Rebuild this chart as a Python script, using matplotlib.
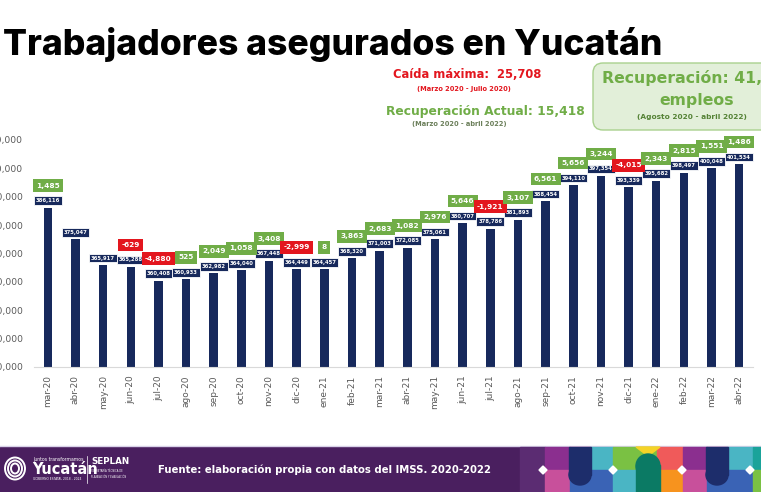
import numpy as np
import matplotlib.pyplot as plt
from matplotlib.patches import Rectangle, FancyBboxPatch, Ellipse, Polygon
from matplotlib.ticker import FuncFormatter

# ---------------------
# Datos
# ---------------------
meses = ["mar-20", "abr-20", "may-20", "jun-20", "jul-20", "ago-20", "sep-20",
         "oct-20", "nov-20", "dic-20", "ene-21", "feb-21", "mar-21", "abr-21",
         "may-21", "jun-21", "jul-21", "ago-21", "sep-21", "oct-21", "nov-21",
         "dic-21", "ene-22", "feb-22", "mar-22", "abr-22"]
asegurados = [386116, 375047, 365917, 365288, 360408, 360933, 362982,
              364040, 367448, 364449, 364457, 368320, 371003, 372085,
              375061, 380707, 378786, 381893, 388454, 394110, 397354,
              393339, 395682, 398497, 400048, 401534]
variacion = [1485, None, None, -629, -4880, 525, 2049,
             1058, 3408, -2999, 8, 3863, 2683, 1082,
             2976, 5646, -1921, 3107, 6561, 5656, 3244,
             -4015, 2343, 2815, 1551, 1486]

navy = "#17295c"
verde = "#70ad47"
rojo = "#e3161e"
morado = "#4a1f5f"

W, H = 761, 492
fig = plt.figure(figsize=(W / 100, H / 100), dpi=100)

# capa de fondo en pixeles (titulo, notas, pie)
bg = fig.add_axes([0, 0, 1, 1])
bg.set_xlim(0, W)
bg.set_ylim(H, 0)
bg.axis("off")

# ---------------------
# Grafica de barras
# ---------------------
ax = fig.add_axes([34 / W, 125 / H, 719 / W, 227 / H])
ax.set_facecolor("none")
x = np.arange(len(meses))
ax.bar(x, asegurados, width=0.31, color=navy, zorder=2)
ax.set_xlim(-0.5, len(meses) - 0.5)
ax.set_ylim(330000, 410000)
ax.set_yticks(np.arange(330000, 410001, 10000))
ax.yaxis.set_major_formatter(FuncFormatter(lambda v, p: f"{v:,.0f}"))
ax.tick_params(axis="y", length=0, pad=8, labelsize=6.6, labelcolor="#595959")
ax.set_xticks(x, meses, rotation=90)
ax.tick_params(axis="x", length=0, pad=6, labelsize=6.5, labelcolor="#595959")
for s in ["top", "right", "left"]:
    ax.spines[s].set_visible(False)
ax.spines["bottom"].set_color("#d9d9d9")

for i, (v, c) in enumerate(zip(asegurados, variacion)):
    ax.annotate(f"{v:,}", (i, v), xytext=(0, 7), textcoords="offset pixels",
                ha="center", va="center", fontsize=3.8, color="white", fontweight="bold",
                bbox=dict(boxstyle="square,pad=0.35", fc=navy, ec="white", lw=0.6),
                zorder=4, annotation_clip=False)
    if c is not None:
        ax.annotate(f"{c:,}", (i, v), xytext=(0, 22), textcoords="offset pixels",
                    ha="center", va="center", fontsize=5.3, color="white", fontweight="bold",
                    bbox=dict(boxstyle="square,pad=0.45", fc=verde if c > 0 else rojo, ec="none"),
                    zorder=5, annotation_clip=False)

# ---------------------
# Titulo y notas
# ---------------------
bg.text(3, 44, "Trabajadores asegurados en Yucatán", fontsize=25.6, fontweight="heavy",
        family=["Inter", "DejaVu Sans"], va="center", ha="left", color="black")

bg.text(467, 75, "Caída máxima:  25,708", fontsize=8.3, fontweight="bold", color=rojo,
        ha="center", va="center")
bg.text(464, 89, "(Marzo 2020 - Julio 2020)", fontsize=4.8, fontweight="bold", color=rojo,
        ha="center", va="center")
bg.text(485, 112, "Recuperación Actual: 15,418", fontsize=8.8, fontweight="bold", color=verde,
        ha="center", va="center")
bg.text(459, 124, "(Marzo 2020 - abril 2022)", fontsize=4.8, fontweight="bold", color="#6b7f5a",
        ha="center", va="center")

bg.add_patch(FancyBboxPatch((593, 63), 200, 67, boxstyle="round,pad=0,rounding_size=10",
                            fc="#e2efd9", ec="#a9d18e", lw=1, zorder=1))
bg.text(699, 78, "Recuperación: 41,126", fontsize=11.3, fontweight="bold", color=verde,
        ha="center", va="center", zorder=2)
bg.text(697, 101, "empleos", fontsize=11.3, fontweight="bold", color=verde,
        ha="center", va="center", zorder=2)
bg.text(692, 117, "(Agosto 2020 - abril 2022)", fontsize=5.3, fontweight="bold", color="#548235",
        ha="center", va="center", zorder=2)

# ---------------------
# Pie de pagina
# ---------------------
bg.plot([0, W], [446, 446], color="#d9d2e9", lw=1)
bg.add_patch(Rectangle((0, 447), W, 45, color=morado, zorder=1))

# logo simplificado
for k in range(3):
    bg.add_patch(Ellipse((15, 468.5), 20 - 6 * k, 22 - 6 * k, fc="none", ec="white",
                         lw=1.4, zorder=2))
bg.text(33, 460, "Juntos transformamos", fontsize=3.3, color="white", va="center", zorder=3)
bg.text(32, 470, "Yucatán", fontsize=10.5, fontweight="bold", color="white", va="center", zorder=3)
bg.text(33, 479, "GOBIERNO ESTATAL 2018 - 2024", fontsize=2.2, color="white", va="center", zorder=3)
bg.plot([87, 87], [456, 483], color="white", lw=0.5, zorder=3)
bg.text(91, 462, "SEPLAN", fontsize=6.3, fontweight="bold", color="white", va="center", zorder=3)
bg.text(91, 471.5, "SECRETARÍA TÉCNICA DE", fontsize=1.8, color="white", va="center", zorder=3)
bg.text(91, 477.5, "PLANEACIÓN Y EVALUACIÓN", fontsize=1.8, color="white", va="center", zorder=3)
bg.text(158, 470, "Fuente: elaboración propia con datos del IMSS. 2020-2022", fontsize=7.3,
        fontweight="bold", color="white", va="center", zorder=3)

# mosaico de colores
bloques = [(520, 545, "#5b2c72", "#5b2c72"), (545, 570, "#8b2f8f", "#c8509b"),
           (570, 590, "#c8509b", "#3a63b5"), (590, 613, "#4ab5c4", "#3a63b5"),
           (613, 640, "#7ac143", "#4ab5c4"), (640, 657, "#7ac143", "#4ab5c4"),
           (657, 683, "#f05a5a", "#f7931e"), (683, 707, "#8b2f8f", "#c8509b"),
           (707, 727, "#c8509b", "#3a63b5"), (727, 753, "#4ab5c4", "#3a63b5"),
           (753, 761, "#1aa39a", "#7ac143")]
for x0, x1, c_top, c_bot in bloques:
    bg.add_patch(Rectangle((x0, 447), x1 - x0, 23, color=c_top, zorder=2))
    bg.add_patch(Rectangle((x0, 470), x1 - x0, 22, color=c_bot, zorder=2))
for cx in [580, 717]:
    bg.add_patch(Rectangle((cx - 11, 447), 22, 28, color="#1d2d6b", zorder=3))
    bg.add_patch(Ellipse((cx, 475), 22, 20, color="#1d2d6b", zorder=3))
bg.add_patch(Polygon([[636, 447], [660, 447], [648, 456]], color="#f5d327", zorder=3))
bg.add_patch(Rectangle((636, 465), 24, 27, color="#0b7a64", zorder=4))
bg.add_patch(Ellipse((648, 466), 24, 24, color="#0b7a64", zorder=4))
for dx in [543, 613, 682, 750]:
    bg.add_patch(Polygon([[dx - 4, 470], [dx, 466], [dx + 4, 470], [dx, 474]],
                         color="white", zorder=5))

fig.savefig("out.png", dpi=100)
